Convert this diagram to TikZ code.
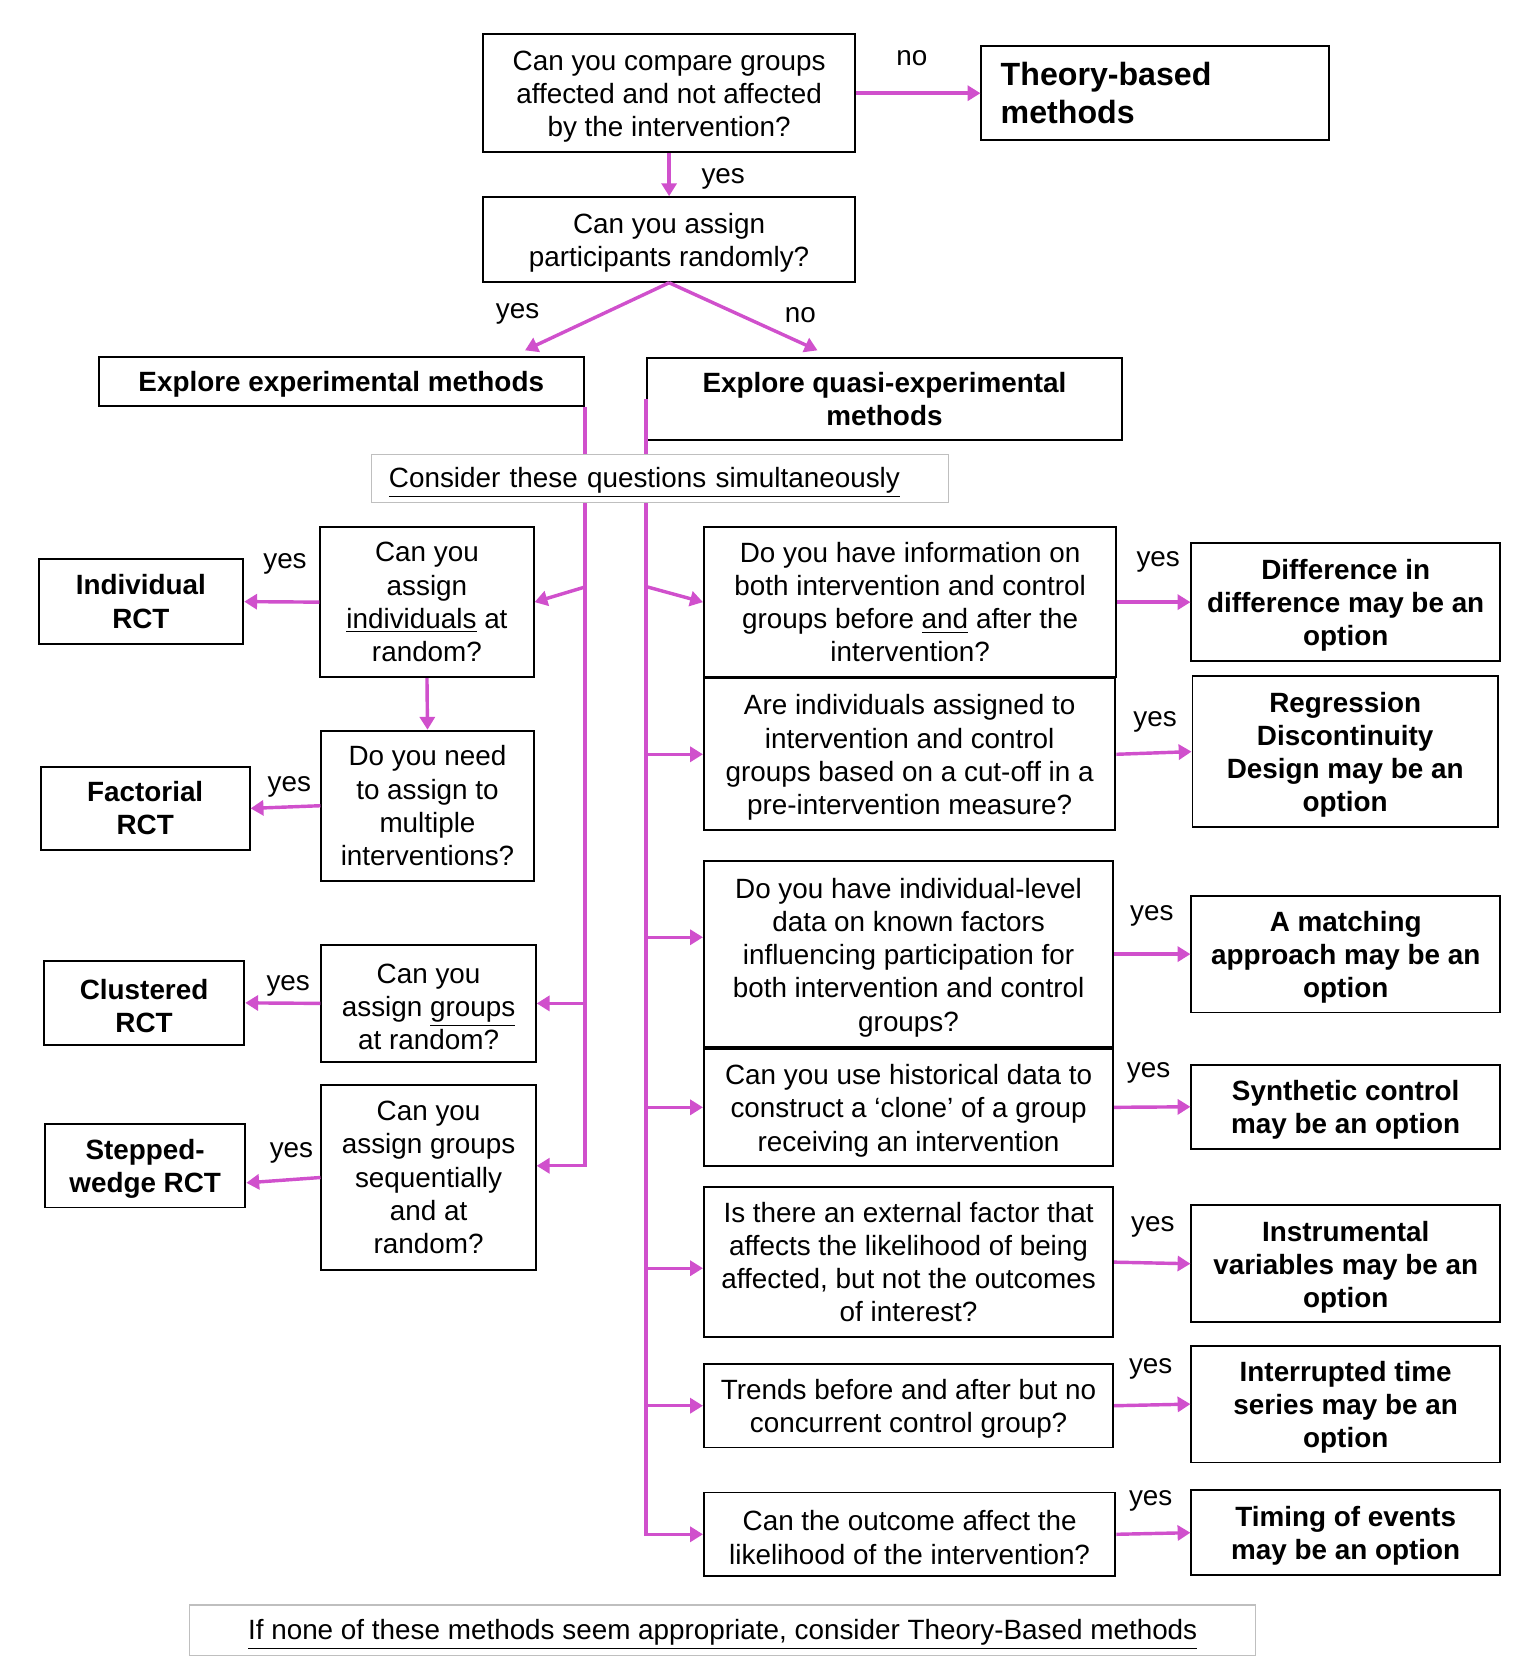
\documentclass[tikz,border=0pt]{standalone}
\usepackage{fontspec}
\setmainfont{Liberation Sans}
\usetikzlibrary{calc,arrows.meta}
\definecolor{mag}{RGB}{208,80,204}
\newcommand\qfont{\fontsize{13pt}{15.5pt}\selectfont}
\newcommand\tbfont{\fontsize{15pt}{17.5pt}\selectfont\bfseries}
\newcommand\fl{\rule{0pt}{12.5pt}}
\begin{document}
\begin{tikzpicture}[x=0.5pt,y=-0.5pt,
  corners/.style n args={4}{minimum width={((#3)-(#1))*0.5pt}, minimum height={((#4)-(#2))*0.5pt}, at={({((#1)+(#3))/2},{((#2)+(#4))/2})}},
  qbox/.style={draw=black, line width=0.9pt, inner sep=0pt, align=center, font=\qfont},
  bbox/.style={qbox, font=\qfont\bfseries},
  tbox/.style={draw=black, line width=0.9pt, inner sep=0pt, text width=144pt, align=left, font=\tbfont},
  gbox/.style={draw=black!25, line width=0.6pt, fill=white, inner sep=0pt, align=center, font=\qfont, execute at begin node={\rule{0pt}{13.5pt}}},
  lbl/.style={font=\qfont, inner sep=0pt, yshift=-2pt},
  mline/.style={draw=mag, line width=1.6pt},
  arr/.style={mline, -{Triangle[length=6pt,width=7pt]}}]
\useasboundingbox (0,0) rectangle (1431,1568);
% top
\node[qbox, corners={451}{32}{798}{142}] (q1) {\fl Can you compare groups\\affected and not affected\\by the intervention?};
\node[tbox, corners={916}{43}{1240}{131}] (theory) {Theory-based\\methods};
\node[qbox, corners={451}{184}{798}{263}] (q2) {\fl Can you assign\\participants randomly?};
\node[bbox, corners={92}{333}{545}{379}] (exp) {\fl Explore experimental methods};
\node[bbox, corners={604}{334}{1047}{411}] (quasi) {Explore quasi-experimental\\methods};
% left column
\node[qbox, corners={299}{492}{498}{632}] (qi) {Can you\\assign\\\underline{individuals} at\\random?};
\node[bbox, corners={36}{522}{227}{601}] (ind) {Individual\\RCT};
\node[qbox, corners={300}{682}{498}{822}] (qm) {Do you need\\to assign to\\multiple\\interventions?};
\node[bbox, corners={38}{716}{233}{793}] (fac) {Factorial\\RCT};
\node[qbox, corners={300}{882}{500}{991}] (qg) {\fl Can you\\assign \underline{groups}\\at random?};
\node[bbox, corners={41}{897}{228}{975}] (clu) {\fl Clustered\\RCT};
\node[qbox, corners={300}{1013}{500}{1185}] (qs) {Can you\\assign groups\\sequentially\\and at\\random?};
\node[bbox, corners={42}{1049}{229}{1127}] (sw) {\fl Stepped-\\wedge RCT};
% right column questions
\node[qbox, corners={657}{492}{1042}{632}] (qd) {Do you have information on\\both intervention and control\\groups before \underline{and} after the\\intervention?};
\node[qbox, corners={657}{633}{1041}{775}] (qr) {\fl Are individuals assigned to\\intervention and control\\groups based on a cut-off in a\\pre-intervention measure?};
\node[qbox, corners={657}{804}{1039}{977}] (qma) {\fl Do you have individual-level\\data on known factors\\influencing participation for\\both intervention and control\\groups?};
\node[qbox, corners={657}{979}{1039}{1088}] (qh) {\fl Can you use historical data to\\construct a ‘clone’ of a group\\receiving an intervention};
\node[qbox, corners={657}{1108}{1039}{1248}] (qiv) {Is there an external factor that\\affects the likelihood of being\\affected, but not the outcomes\\of interest?};
\node[qbox, corners={657}{1273}{1039}{1351}] (qt) {\fl Trends before and after but no\\concurrent control group?};
\node[qbox, corners={657}{1393}{1041}{1471}] (qo) {\fl Can the outcome affect the\\likelihood of the intervention?};
% right column results
\node[bbox, corners={1112}{507}{1400}{617}] (did) {\fl Difference in\\difference may be an\\option};
\node[bbox, corners={1113}{631}{1398}{772}] (rdd) {\fl Regression\\Discontinuity\\Design may be an\\option};
\node[bbox, corners={1112}{836}{1400}{945}] (mat) {\fl A matching\\approach may be an\\option};
\node[bbox, corners={1112}{994}{1400}{1072}] (syn) {\fl Synthetic control\\may be an option};
\node[bbox, corners={1112}{1125}{1400}{1234}] (ivr) {\fl Instrumental\\variables may be an\\option};
\node[bbox, corners={1112}{1256}{1400}{1365}] (its) {\fl Interrupted time\\series may be an\\option};
\node[bbox, corners={1112}{1391}{1400}{1470}] (tim) {\fl Timing of events\\may be an option};
% labels
\node[lbl] (lno1) at (851,50) {no};
\node[lbl] (lyes1) at (675,163) {yes};
\node[lbl] (lyes2) at (483,289) {yes};
\node[lbl] (lno2) at (747,290) {no};
\node[lbl] (lyi) at (266,522) {yes};
\node[lbl] (lyf) at (270,730) {yes};
\node[lbl] (lyc) at (269,916) {yes};
\node[lbl] (lys) at (272,1072) {yes};
\node[lbl] (lyd) at (1081,520) {yes};
\node[lbl] (lyr) at (1078,670) {yes};
\node[lbl] (lym) at (1075,851) {yes};
\node[lbl] (lyh) at (1072,997) {yes};
\node[lbl] (lyv) at (1076,1141) {yes};
\node[lbl] (lyt) at (1074,1274) {yes};
\node[lbl] (lyo) at (1074,1397) {yes};
% coordinates
\coordinate (ea) at (490,327);
\coordinate (qa) at (763,327);
\coordinate (swin) at ($(qs.north east)!0.437!(qs.south east)$);
\coordinate (l1) at ($(exp.south east)+(0,168)$);
\coordinate (r1) at ($(quasi.west)+(0,175)$);
\coordinate (qmain) at ($(qma.north west)!0.41!(qma.south west)$);
\coordinate (qivin) at ($(qiv.north west)!0.54!(qiv.south west)$);
\coordinate (swout) at ($(sw.north east)!0.7!(sw.south east)$);
% connectors
\draw[arr] (q1.east) -- (theory.west);
\draw[arr] (q1.south) -- (q2.north);
\draw[arr] (q2.south) -- (ea);
\draw[arr] (q2.south) -- (qa);
\draw[arr] (exp.south east) |- (swin);
\draw[arr] (l1) -- (qi.east);
\draw[arr] (qg.east -| exp.south east) -- (qg.east);
\draw[arr] (qi.south) -- (qm.north);
\draw[arr] (qi.west) -- (ind.east);
\draw[arr] (qm.west) -- (fac.east);
\draw[arr] (qg.west) -- (clu.east);
\draw[arr] (qs.west) -- (swout);
\draw[arr] (quasi.west) |- (qo.west);
\draw[arr] (r1) -- (qd.west);
\draw[arr] (qr.west -| quasi.west) -- (qr.west);
\draw[arr] (qmain -| quasi.west) -- (qmain);
\draw[arr] (qh.west -| quasi.west) -- (qh.west);
\draw[arr] (qivin -| quasi.west) -- (qivin);
\draw[arr] (qt.west -| quasi.west) -- (qt.west);
\draw[arr] (qd.east) -- (did.west);
\draw[arr] (qr.east) -- (rdd.west);
\draw[arr] (qma.east) -- (mat.west);
\draw[arr] (qh.east) -- (syn.west);
\draw[arr] (qiv.east) -- (ivr.west);
\draw[arr] (qt.east) -- (its.west);
\draw[arr] (qo.east) -- (tim.west);
% gray boxes on top
\node[gbox, corners={347}{424}{885}{469}, text width=253pt, align=left] (cons) {\underline{Consider these questions simultaneously}};
\node[gbox, corners={177}{1498}{1172}{1545}] (note) {\underline{If none of these methods seem appropriate, consider Theory-Based methods}};
\end{tikzpicture}
\end{document}
